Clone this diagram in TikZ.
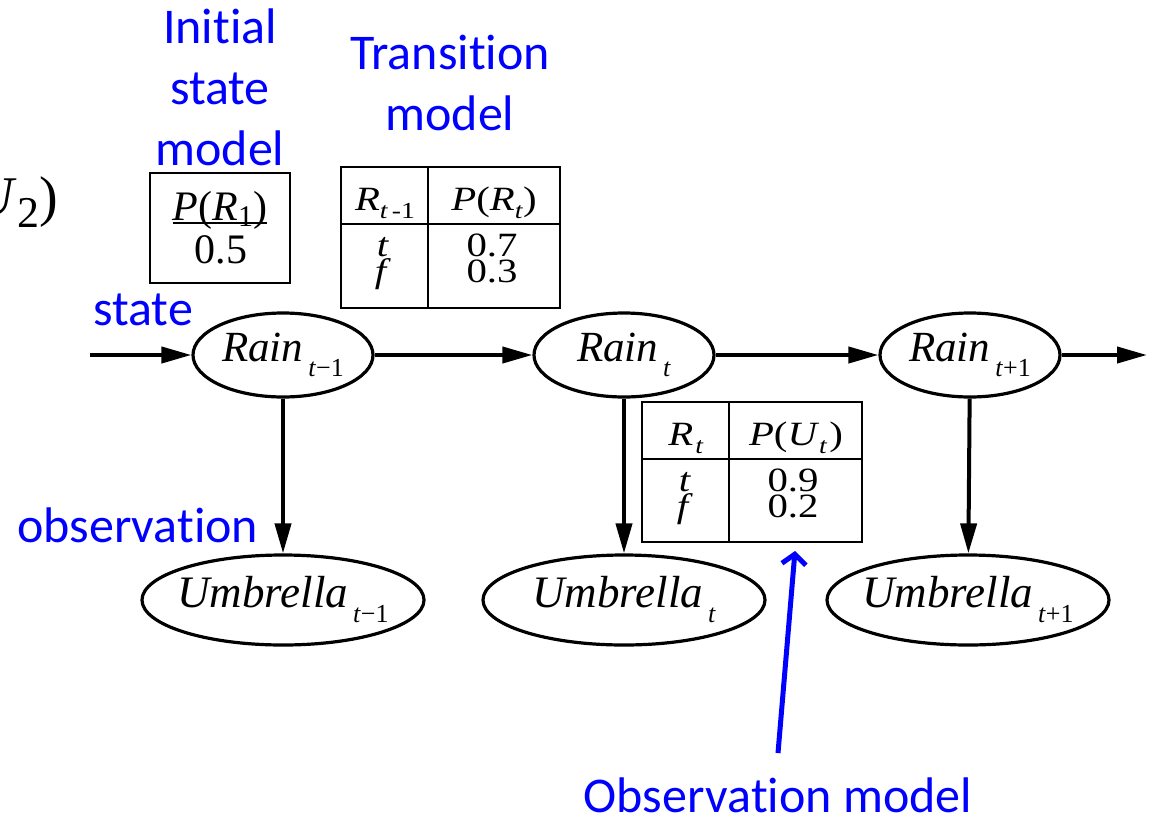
\documentclass[tikz,border=0pt]{standalone}
\usepackage{fontspec}
\setmainfont{Liberation Serif}
\newfontfamily\labelfont[Ligatures={NoCommon,NoRequired,NoContextual,NoRare}]{Carlito}
\newfontfamily\tabfont[FakeStretch=1.2]{Liberation Serif}
\usetikzlibrary{shapes.geometric,arrows.meta,calc}

% variable name with a lowered index, centred in a zero-width box
\newcommand{\varname}[2]{\makebox[0pt]{\textit{#1}\hspace{5pt}%
    \raisebox{-15pt}{\fontsize{26}{26}\selectfont #2}}}
\newcommand{\idx}[2][8pt]{\raisebox{-#1}{\fontsize{23}{23}\selectfont #2}}

\begin{document}
\begin{tikzpicture}[x=1pt,y=-1pt,
    varnode/.style={ellipse,draw,line width=3.2pt,inner sep=0pt,
        minimum width=180pt,minimum height=84pt,font=\fontsize{43}{43}\selectfont},
    obsnode/.style={varnode,minimum width=282pt,minimum height=90pt,
        font=\fontsize{45}{45}\selectfont},
    tabframe/.style={draw,line width=2pt,inner sep=0pt},
    tabline/.style={line width=1.6pt},
    cell/.style={anchor=base,inner sep=0pt,font=\tabfont\fontsize{34}{34}\selectfont},
    lbl/.style={text=blue,inner sep=0pt,align=center,
        font=\labelfont\fontsize{50}{61}\selectfont},
    flow/.style={-{Triangle[length=30pt,width=16pt]},line width=4pt},
    point/.style={-{Straight Barb[length=10pt,width=24pt]},line width=5pt,draw=blue}
]
    \useasboundingbox (0,0) rectangle (1149,817);

    % tail of the formula cut off at the left edge
    \begin{scope}
        \clip (0,0) rectangle (1149,817);
        \node[anchor=base east,inner sep=0pt,font=\fontsize{56}{56}\selectfont]
            (prevterm) at (58,215) {\textit{U}\raisebox{-12pt}{\fontsize{44}{44}\selectfont 2})};
    \end{scope}

    % hidden chain and observations
    \node[varnode] (rain1) at (283,355) {\varname{Rain}{\textit{t}−1}};
    \node[varnode] (rain2) at (624,355) {\varname{Rain}{\textit{t}}};
    \node[varnode] (rain3) at (970,355) {\varname{Rain}{\textit{t}+1}};
    \node[obsnode] (umb1) at (283,600) {\varname{Umbrella}{\textit{t}−1}};
    \node[obsnode] (umb2) at (624,600) {\varname{Umbrella}{\textit{t}}};
    \node[obsnode] (umb3) at (968,600) {\varname{Umbrella}{\textit{t}+1}};
    \coordinate (start) at (90,355);
    \coordinate (finish) at (1147,355);

    \draw[flow] (start)--(rain1);
    \draw[flow] (rain1)--(rain2);
    \draw[flow] (rain2)--(rain3);
    \draw[flow] (rain3)--(finish);
    \draw[flow] (rain1)--(umb1);
    \draw[flow] (rain2)--(umb2);
    \draw[flow] (rain3)--(umb3);

    % initial state table
    \node[tabframe,minimum width=140pt,minimum height=110pt] (inittab) at (220,228) {};
    \node[cell,font=\fontsize{42}{42}\selectfont] (initp) at (220,220)
        {\textit{P}(\textit{R}\raisebox{-6pt}{\fontsize{30}{30}\selectfont 1})};
    \draw[line width=1.5pt] ($(initp.base west)+(0,3)$)--($(initp.base east)+(0,3)$);
    \node[cell,font=\fontsize{42}{42}\selectfont] (initv) at (221,263) {0.5};

    % transition table
    \node[tabframe,minimum width=219pt,minimum height=141pt] (transtab) at (450.5,237.5) {};
    \draw[tabline] ($(transtab.north west)+(88,0)$)--($(transtab.south west)+(88,0)$);
    \draw[tabline] ($(transtab.north west)+(0,58)$)--($(transtab.north east)+(0,58)$);
    \node[cell] (transh1) at (385,210) {\textit{R}\idx{\textit{t}\,-1}};
    \node[cell] (transh2) at (494,210) {\textit{P}(\textit{R}\idx{\textit{t}})};
    \node[cell] (transr1) at (383,256) {\textit{t}};
    \node[cell] (transr2) at (383,282) {\textit{f}};
    \node[cell] (transv1) at (492,256) {0.7};
    \node[cell] (transv2) at (492,282) {0.3};

    % observation table
    \node[tabframe,minimum width=220pt,minimum height=140pt] (obstab) at (752,472) {};
    \draw[tabline] ($(obstab.north west)+(88,0)$)--($(obstab.south west)+(88,0)$);
    \draw[tabline] ($(obstab.north west)+(0,58)$)--($(obstab.north east)+(0,58)$);
    \node[cell] (obsh1) at (686,445) {\textit{R}\hspace{2pt}\idx{\textit{t}}};
    \node[cell] (obsh2) at (796,445) {\textit{P}(\textit{U}\idx{\textit{t}}\hspace{2pt})};
    \node[cell] (obsr1) at (685,491) {\textit{t}};
    \node[cell] (obsr2) at (685,517) {\textit{f}};
    \node[cell] (obsv1) at (793,491) {0.9};
    \node[cell] (obsv2) at (793,517) {0.2};

    % blue annotations
    \node[lbl,anchor=base] (initlbl) at (220,165) {Initial\\state\\model};
    \node[lbl,anchor=base] (translbl) at (450,130) {Transi\kern0pt tion\\model};
    \node[lbl,anchor=base west] (statelbl) at (93,325) {state};
    \node[lbl,anchor=base west] (obslbl) at (17,542) {observation};
    \node[lbl,anchor=base] (obsmodel) at (778,812) {Observa\kern0pt tion model};
    \coordinate (obstip) at ($(obstab.south)+(43,8)$);
    \draw[point] ([yshift=24pt]obsmodel.north)--(obstip);
\end{tikzpicture}
\end{document}
